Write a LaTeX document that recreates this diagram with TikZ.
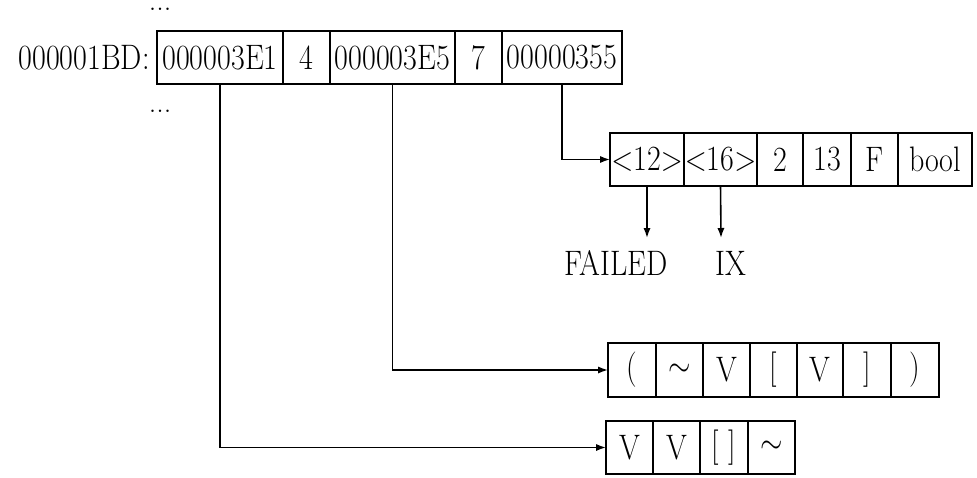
\documentclass[tikz,border=0pt]{standalone}
\usepackage{graphicx}
\usetikzlibrary{arrows.meta}
\newcommand{\vs}[1]{\scalebox{1}[1.18]{#1}}
\begin{document}
\begin{tikzpicture}[x=0.5pt,y=-0.5pt,
  txt/.style={font=\fontsize{15}{18}\selectfont},
  cell/.style={txt,draw,line width=0.9pt,inner sep=0pt,outer sep=0pt,minimum height=26.5pt,anchor=west},
  lbl/.style={txt,inner sep=0pt},
  wire/.style={line width=0.8pt},
  conn/.style={wire,-{Latex[length=5pt,width=3.6pt]}}]
\useasboundingbox (0,0) rectangle (977,477);

% dots and address label
\node[lbl,anchor=base] (dotsA) at (160,10) {...};
\node[lbl,anchor=base] (dotsB) at (160,112) {...};

% row 1
\node[cell,minimum width=63pt]   (a1) at (157,57.5) {\vs{000003E1}};
\node[cell,minimum width=23.5pt] (a2) at (a1.east) {\vs{4}};
\node[cell,minimum width=62.5pt] (a3) at (a2.east) {\vs{000003E5}};
\node[cell,minimum width=23.5pt] (a4) at (a3.east) {\vs{7}};
\node[cell,minimum width=60pt]   (a5) at (a4.east) {\vs{00000355}};
\node[lbl,anchor=base east] (addr) at ([xshift=-3.5pt]a1.base west) {\vs{000001BD:}};

% row 2
\node[cell,minimum width=37pt]   (b1) at (610,159.5) {\vs{\makebox[0pt]{$<$12$>$}}};
\node[cell,minimum width=36.5pt] (b2) at (b1.east) {\vs{\makebox[0pt]{$<$16$>$}}};
\node[cell,minimum width=23pt]   (b3) at (b2.east) {\vs{2}};
\node[cell,minimum width=24pt]   (b4) at (b3.east) {\vs{13}};
\node[cell,minimum width=23.5pt] (b5) at (b4.east) {\vs{F}};
\node[cell,minimum width=37pt]   (b6) at (b5.east) {\vs{bool}};

\node[lbl,anchor=base] (failed) at (616,275) {\vs{FAILED}};
\node[lbl,anchor=base] (ix) at (731,275) {\vs{IX}};
\coordinate (fa) at (647,238);
\coordinate (ixa) at (721,238);

% row 3
\node[cell,minimum width=24pt,minimum height=27pt]   (c1) at (608,370) {\vs{(}};
\node[cell,minimum width=23.5pt,minimum height=27pt] (c2) at (c1.east) {\vs{$\sim$}};
\node[cell,minimum width=23.5pt,minimum height=27pt] (c3) at (c2.east) {\vs{V}};
\node[cell,minimum width=23.5pt,minimum height=27pt] (c4) at (c3.east) {\vs{[}};
\node[cell,minimum width=23pt,minimum height=27pt]   (c5) at (c4.east) {\vs{V}};
\node[cell,minimum width=24pt,minimum height=27pt]   (c6) at (c5.east) {\vs{]}};
\node[cell,minimum width=24pt,minimum height=27pt]   (c7) at (c6.east) {\vs{)}};

% row 4
\node[cell,minimum width=23.5pt] (d1) at (606,447.5) {\vs{V}};
\node[cell,minimum width=23.5pt] (d2) at (d1.east) {\vs{V}};
\node[cell,minimum width=24pt]   (d3) at (d2.east) {\vs{[\ ]}};
\node[cell,minimum width=23.5pt] (d4) at (d3.east) {\vs{$\sim$}};

% connectors
\draw[conn] (a1.south) |- (d1.west);
\draw[conn] (a3.south) |- (c1.west);
\draw[conn] (a5.south) |- (b1.west);
\draw[conn] (b1.south) -- (fa);
\draw[conn] (b2.south) -- (ixa);
\end{tikzpicture}
\end{document}
